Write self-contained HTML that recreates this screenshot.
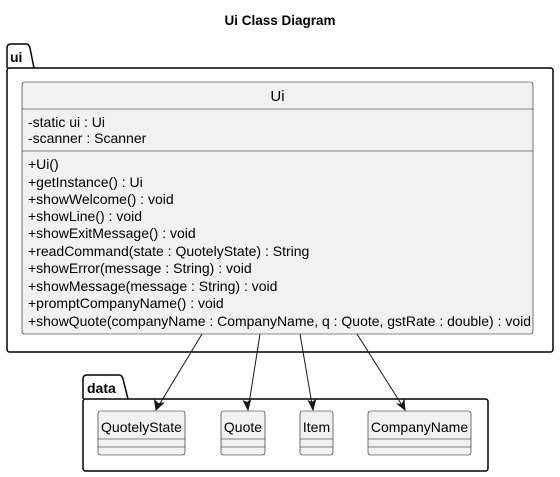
<!DOCTYPE html>
<html><head><meta charset="utf-8"><style>
html,body{margin:0;padding:0;background:#fff;width:560px;height:477px;overflow:hidden}
text{font-family:"Liberation Sans",sans-serif;fill:#000}
</style></head><body>
<svg width="560" height="477" xmlns="http://www.w3.org/2000/svg">
<text x="280" y="25" text-anchor="middle" font-size="13.5" font-weight="bold">Ui Class Diagram</text>
<path d="M7,68 V48 Q7,44 11,44 H26 Q29,44 30,48 L34,68" fill="none" stroke="#000" stroke-width="1.5"/>
<rect x="7" y="68" width="546" height="284" rx="2.5" fill="none" stroke="#000" stroke-width="1.5"/>
<text x="10" y="62" font-size="14" font-weight="bold">ui</text>
<rect x="22" y="82" width="511" height="252" rx="2.5" fill="#f1f1f1" stroke="#181818" stroke-width="0.6"/>
<line x1="22" y1="109" x2="533" y2="109" stroke="#181818" stroke-width="0.6"/>
<line x1="22" y1="151" x2="533" y2="151" stroke="#181818" stroke-width="0.6"/>
<text x="277.5" y="101" text-anchor="middle" font-size="15">Ui</text>
<g font-size="14">
<text x="28" y="127">-static ui : Ui</text>
<text x="28" y="143">-scanner : Scanner</text>
<text x="28" y="169">+Ui()</text>
<text x="28" y="187">+getInstance() : Ui</text>
<text x="28" y="204">+showWelcome() : void</text>
<text x="28" y="221">+showLine() : void</text>
<text x="28" y="238">+showExitMessage() : void</text>
<text x="28" y="256">+readCommand(state : QuotelyState) : String</text>
<text x="28" y="273">+showError(message : String) : void</text>
<text x="28" y="291">+showMessage(message : String) : void</text>
<text x="28" y="308">+promptCompanyName() : void</text>
<text x="28" y="326" textLength="503" lengthAdjust="spacingAndGlyphs">+showQuote(companyName : CompanyName, q : Quote, gstRate : double) : void</text>
</g>
<path d="M83,399 V379 Q83,375 87,375 H119 Q122,375 123,379 L128,399" fill="none" stroke="#000" stroke-width="1.5"/>
<rect x="83" y="399" width="405" height="72" rx="2.5" fill="none" stroke="#000" stroke-width="1.5"/>
<text x="87" y="393" font-size="14" font-weight="bold">data</text>
<g stroke="#181818" stroke-width="0.6" fill="#f1f1f1">
<rect x="98" y="411" width="87" height="44" rx="2.5"/>
<rect x="221" y="411" width="44" height="44" rx="2.5"/>
<rect x="300" y="411" width="33" height="44" rx="2.5"/>
<rect x="368" y="411" width="103" height="44" rx="2.5"/>
<path d="M98,439H185M98,447H185M221,439H265M221,447H265M300,439H333M300,447H333M368,439H471M368,447H471" fill="none"/>
</g>
<g font-size="14" text-anchor="middle">
<text x="141.5" y="432">QuotelyState</text>
<text x="243" y="432">Quote</text>
<text x="316.5" y="432">Item</text>
<text x="419.5" y="432">CompanyName</text>
</g>
<g stroke="#181818" stroke-width="1" fill="none">
<line x1="202" y1="334" x2="156" y2="410"/>
<line x1="260" y1="334" x2="248" y2="410"/>
<line x1="300" y1="334" x2="313" y2="410"/>
<line x1="357" y1="334" x2="405" y2="410"/>
</g>
<g stroke="#181818" stroke-width="1" fill="#181818">
<path d="M154.5,400 L156,410 L163.5,403 L158,403.5 Z"/>
<path d="M243.5,401 L248,410 L250.5,400 L247,402.5 Z"/>
<path d="M308.5,401 L313,410 L315.5,400 L312,402.5 Z"/>
<path d="M397.5,404 L405,410 L404,400 L402,404.5 Z"/>
</g>
</svg>
</body></html>
